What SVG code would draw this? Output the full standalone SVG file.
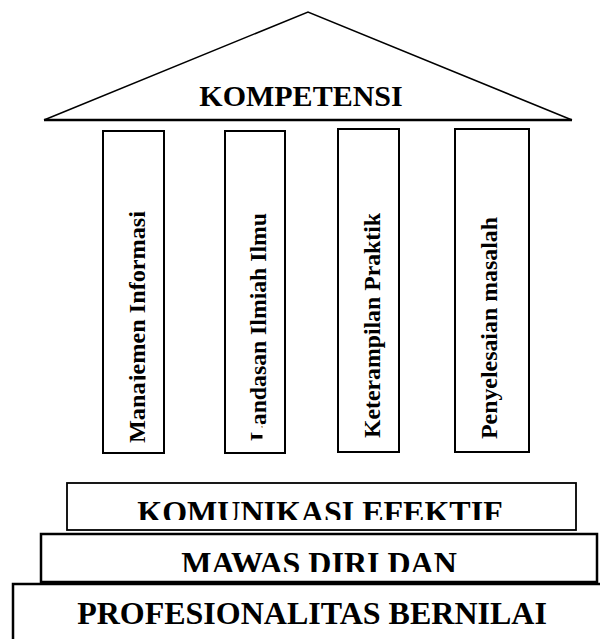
<svg xmlns="http://www.w3.org/2000/svg" width="600" height="639" viewBox="0 0 600 639">
<style>
.t{font-family:"Liberation Serif","Times New Roman",serif;font-weight:bold;fill:#000}
.pil{font-size:23px}
.big{font-size:32px}
.box{fill:#fff;stroke:#000}
</style>
<defs>
<clipPath id="c1"><rect x="100" y="130" width="45.5" height="320"/></clipPath>
<clipPath id="c2"><path clip-rule="evenodd" d="M220 130H290V450H220Z M262.5 424H270V442H262.5Z"/></clipPath>
<clipPath id="c5"><rect x="60" y="480" width="520" height="40"/></clipPath>
<clipPath id="c6"><rect x="40" y="533" width="560" height="39"/></clipPath>
</defs>
<rect width="600" height="639" fill="#fff"/>
<g id="roof">
<polyline points="44,120 308,12 572,120" fill="none" stroke="#000" stroke-width="1.5"/>
<line x1="44" y1="120" x2="572" y2="120" stroke="#000" stroke-width="2.5"/>
<text class="t" x="301" y="106" font-size="30" text-anchor="middle">KOMPETENSI</text>
</g>
<g id="pillar1">
<rect class="box" x="103" y="131" width="61" height="322" stroke-width="2" stroke="#222"/>
<g clip-path="url(#c1)"><text class="t pil" transform="translate(145,443) rotate(-90)" textLength="232" lengthAdjust="spacingAndGlyphs">Manajemen Informasi</text></g>
</g>
<g id="pillar2">
<rect class="box" x="225" y="131" width="60" height="322" stroke-width="2" stroke="#222"/>
<g clip-path="url(#c2)"><text class="t pil" transform="translate(266,441) rotate(-90)" textLength="228" lengthAdjust="spacingAndGlyphs">Landasan Ilmiah Ilmu</text></g>
</g>
<g id="pillar3">
<rect class="box" x="338" y="129" width="61" height="323" stroke-width="2" stroke="#222"/>
<text class="t pil" transform="translate(380,438) rotate(-90)" textLength="225" lengthAdjust="spacingAndGlyphs">Keterampilan Praktik</text>
</g>
<g id="pillar4">
<rect class="box" x="455" y="129" width="74" height="323" stroke-width="2" stroke="#222"/>
<text class="t pil" transform="translate(497,439) rotate(-90)" textLength="222" lengthAdjust="spacingAndGlyphs">Penyelesaian masalah</text>
</g>
<g id="base3">
<rect class="box" x="13" y="584" width="600" height="80" stroke-width="2.5"/>
<text class="t big" x="312" y="624" text-anchor="middle">PROFESIONALITAS BERNILAI</text>
</g>
<g id="base2">
<rect class="box" x="41" y="534" width="556" height="48" stroke-width="2.5"/>
<text class="t big" clip-path="url(#c6)" x="319" y="574" text-anchor="middle">MAWAS DIRI DAN</text>
</g>
<g id="base1">
<rect class="box" x="67" y="483" width="509" height="47" stroke-width="1.8" stroke="#222"/>
<text class="t big" clip-path="url(#c5)" x="320" y="523" text-anchor="middle">KOMUNIKASI EFEKTIF</text>
</g>
<g id="connectors"/>
</svg>
